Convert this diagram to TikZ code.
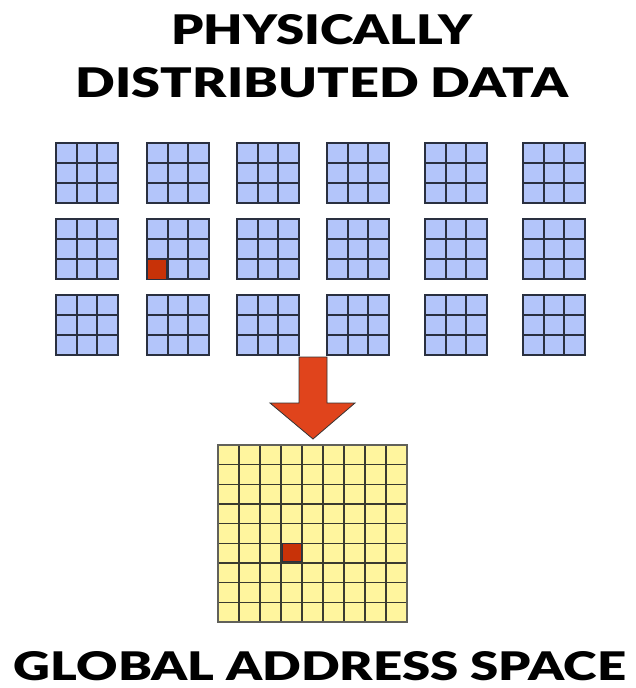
\documentclass[tikz,border=0pt]{standalone}
\usepackage{fontspec}
\setmainfont{Lato}[BoldFont={Lato Black}]
\usepackage{graphicx}
\definecolor{cellblue}{HTML}{B3C5FA}
\definecolor{gridline}{HTML}{2A3040}
\definecolor{cellyellow}{HTML}{FFF59E}
\definecolor{ygrid}{HTML}{3A3A30}
\definecolor{hot}{HTML}{C83208}
\definecolor{arrowred}{HTML}{E0441C}
\tikzset{
  title/.style={inner sep=0pt, font=\bfseries},
  smallgrid/.pic={
    \fill[cellblue] (0,0) rectangle (62,60);
    \foreach \k in {1,2} {
      \draw[gridline, line width=1.7pt] (\k*62/3,0) -- (\k*62/3,60);
      \draw[gridline, line width=1.7pt] (0,\k*20) -- (62,\k*20);
    }
    \draw[gridline, line width=1.8pt] (0,0) rectangle (62,60);
  },
  hotcell/.style={fill=hot, draw=gridline, line width=1.2pt},
}
\begin{document}
\begin{tikzpicture}[x=1pt,y=-1pt]
\useasboundingbox[fill=white] (0,0) rectangle (635,688);

% titles
\node[title] (t1) at (322,30) {\resizebox{301pt}{30pt}{PHYSICALLY}};
\node[title] (t2) at (322,83) {\resizebox{492pt}{30pt}{DISTRIBUTED DATA}};
\node[title] (t3) at (320,666) {\resizebox{612pt}{29pt}{GLOBAL ADDRESS SPACE}};

% small distributed grids
\foreach \cx [count=\i] in {56,147,237,327,425,523} {
  \foreach \ry [count=\j] in {143,219,295} {
    \pic (g\i\j) at (\cx,\ry) {smallgrid};
    \coordinate (c\i\j) at (\cx+31,\ry+30);
  }
}
% highlighted element in the local block
\draw[hotcell] (147.8,259.8) rectangle (147+62/3-0.8,279.2);

% arrow
\coordinate (as1) at (299,357);
\coordinate (as2) at (327,357);
\coordinate (tip) at (313,439);
\filldraw[fill=arrowred, draw=black!80, line width=0.8pt, line join=miter]
  (as1) -- (as2) -- (327,403) -- (355,403) -- (tip) -- (270,403) -- (299,403) -- cycle;

% global address space grid
\fill[cellyellow] (218,445) rectangle (407,622);
\foreach \k in {1,...,8} {
  \draw[ygrid, line width=1.6pt] (218+\k*21,445) -- (218+\k*21,622);
  \draw[ygrid, line width=1.6pt] (218,445+\k*177/9) -- (407,445+\k*177/9);
}
\draw[ygrid!80, line width=1.6pt] (218,445) rectangle (407,622);
\node[hotcell, minimum width=19pt, minimum height=18pt, inner sep=0pt, anchor=north west] (hot) at (281.8,543.2) {};
\end{tikzpicture}
\end{document}
